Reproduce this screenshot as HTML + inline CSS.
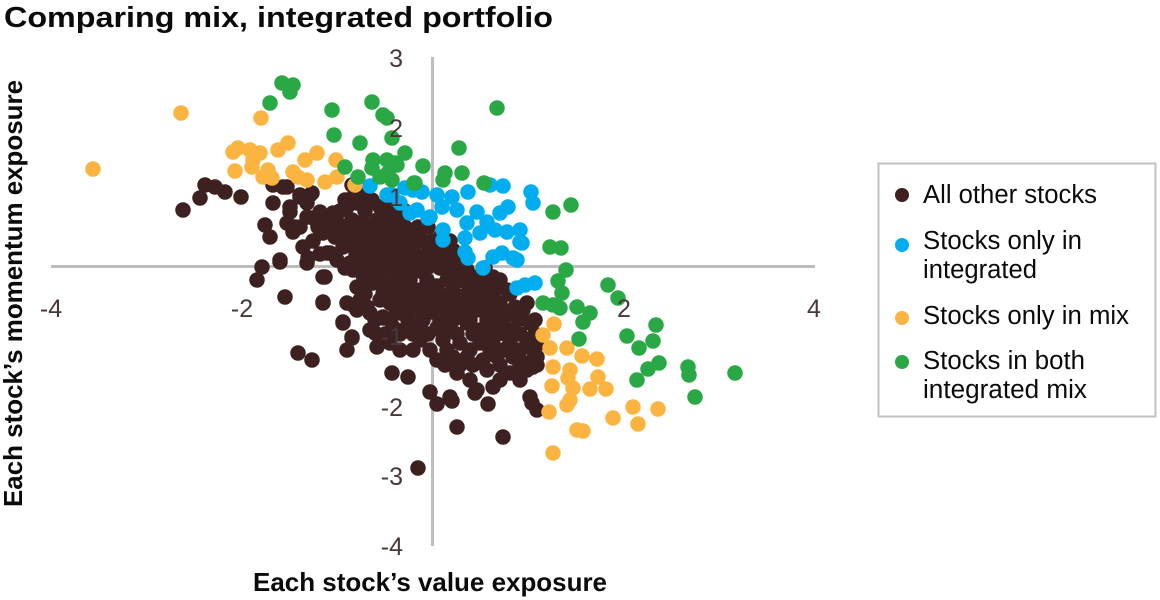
<!DOCTYPE html>
<html>
<head>
<meta charset="utf-8">
<style>
html,body{margin:0;padding:0;background:#fff;}
svg{display:block;}
</style>
</head>
<body>
<svg width="1160" height="600" viewBox="0 0 1160 600" xmlns="http://www.w3.org/2000/svg">
<rect width="1160" height="600" fill="#fff"/>
<!-- Title -->
<text x="4" y="27" font-family="Liberation Sans, Arial, sans-serif" font-weight="bold" font-size="29" fill="#0a0a0a" textLength="549" lengthAdjust="spacingAndGlyphs">Comparing mix, integrated portfolio</text>

<!-- Axes -->
<line x1="51" y1="266.5" x2="815" y2="266.5" stroke="#bdbdbd" stroke-width="3"/>
<line x1="432.5" y1="57" x2="432.5" y2="546" stroke="#bdbdbd" stroke-width="3"/>

<!-- Brown: all other stocks -->
<path fill="none" stroke="#3d2020" stroke-width="15.5" stroke-linecap="round" d="
M183 210h0M200 198h0M205 185h0M215 187h0M225 192h0M241 197h0M273 203h0M273 185h0M287 187h0M300 197h0M310 195h0M290 212h0M307 217h0M320 213h0M265 225h0M270 237h0M292 227h0M303 247h0M308 258h0M262 267h0M280 262h0M327 253h0M257 280h0M285 297h0M325 277h0M323 303h0M343 322h0M352 338h0M298 353h0M312 360h0M383 317h0M375 333h0M352 185h0M362 188h0
M283 187h0M300 195h0M312 193h0M355 193h0M363 197h0
M290 207h0M307 203h0M320 212h0M333 213h0M347 207h0M357 203h0M370 202h0M380 207h0M390 213h0
M287 223h0M300 227h0M313 218h0M327 220h0M340 225h0M352 220h0M363 222h0M377 220h0M387 223h0M398 223h0
M293 232h0M323 233h0M335 237h0M347 233h0M357 235h0M370 232h0M383 230h0M395 235h0M407 238h0M417 237h0M440 237h0
M303 247h0M330 253h0M343 247h0M357 247h0M368 250h0M380 245h0M393 250h0M403 247h0M413 248h0M430 245h0M440 247h0M453 250h0
M280 260h0M307 263h0M337 260h0M350 263h0M363 260h0M377 258h0M393 260h0M407 263h0M420 260h0M433 258h0M447 257h0M460 263h0M467 257h0
M323 277h0M353 270h0M363 275h0M377 270h0M397 277h0M407 270h0M420 271h0M440 268h0M457 273h0M467 270h0M477 277h0M493 277h0
M357 287h0M373 283h0M390 287h0M403 283h0M420 290h0M437 286h0M453 287h0M467 283h0M480 287h0M493 285h0M507 290h0
M323 302h0M347 303h0M360 300h0M380 300h0M390 303h0M403 302h0M417 300h0M430 297h0M447 300h0M460 303h0M473 297h0M487 300h0M500 303h0M527 303h0
M343 323h0M357 310h0M370 313h0M383 318h0M400 313h0M413 310h0M430 312h0M447 313h0M460 317h0M477 310h0M493 313h0M510 313h0M523 310h0
M352 337h0M370 330h0M380 337h0M393 327h0M407 327h0M420 327h0M437 328h0M450 327h0M467 323h0M480 330h0M497 327h0M513 330h0M530 323h0
M347 350h0M377 347h0M390 343h0M400 350h0M420 340h0M443 340h0M460 343h0M480 343h0M493 340h0M510 343h0M527 340h0M540 343h0
M437 360h0M453 357h0M467 357h0M483 360h0M497 357h0M513 357h0M527 363h0M537 357h0
M392 373h0M408 377h0M457 373h0M487 370h0M510 373h0M527 370h0M533 367h0
M430 392h0M450 397h0M477 390h0M530 397h0M493 387h0
M437 404h0M452 401h0M475 393h0M488 404h0M457 427h0M503 437h0M418 468h0M532 403h0M537 410h0
M345 200h0M372 200h0M388 200h0
M340 211h0M365 211h0M395 211h0M405 211h0
M295 227h0M318 227h0M332 227h0M346 227h0M358 227h0M370 227h0M392 227h0M405 227h0M418 227h0M428 227h0
M313 241h0M350 241h0M362 241h0M376 241h0M388 241h0M400 241h0M422 241h0M432 241h0M450 241h0
M320 254h0M356 254h0M372 254h0M386 254h0M400 254h0M413 254h0M427 254h0M440 254h0
M345 268h0M358 268h0M372 268h0M386 268h0M400 268h0M413 268h0M427 268h0M447 268h0M485 268h0
M365 280h0M383 280h0M410 280h0M427 280h0M447 280h0M460 280h0M470 280h0M485 280h0M500 280h0
M365 294h0M383 294h0M397 294h0M410 294h0M425 294h0M440 294h0M455 294h0M467 294h0M480 294h0M493 294h0M510 294h0
M355 307h0M367 307h0M395 307h0M408 307h0M423 307h0M437 307h0M453 307h0M467 307h0M483 307h0M500 307h0M515 307h0
M375 320h0M390 320h0M408 320h0M423 320h0M440 320h0M453 320h0M470 320h0M487 320h0M503 320h0M518 320h0M535 320h0
M385 334h0M400 334h0M413 334h0M428 334h0M443 334h0M457 334h0M473 334h0M490 334h0M505 334h0M520 334h0M535 334h0
M413 350h0M430 350h0M447 350h0M470 350h0M490 350h0M503 350h0M520 350h0M533 350h0
M445 365h0M460 365h0M473 365h0M500 365h0M520 365h0M537 365h0
M470 380h0M500 380h0M520 380h0
"/>

<!-- Blue: stocks only in integrated -->
<path fill="none" stroke="#00adef" stroke-width="15.5" stroke-linecap="round" d="
M370 186h0M387 195h0M392 195h0M400 203h0M413 190h0M422 192h0M417 210h0M428 218h0M437 195h0M442 207h0M452 197h0M457 210h0M468 192h0M477 212h0M490 185h0M503 186h0M531 192h0M533 203h0M508 207h0M500 213h0M487 222h0M467 223h0M480 233h0M495 230h0M507 232h0M520 230h0M520 242h0M443 230h0M443 240h0M465 238h0M465 252h0M468 258h0M493 257h0M502 253h0M513 258h0M483 268h0M517 288h0M525 285h0M535 283h0M430 217h0M410 213h0M522 243h0M517 260h0M405 188h0
"/>

<!-- Orange: stocks only in mix -->
<path fill="none" stroke="#fcb441" stroke-width="15.5" stroke-linecap="round" d="
M93 169h0M181 113h0M261 118h0M233 152h0M238 148h0M250 150h0M260 153h0M253 160h0M252 167h0M235 171h0M268 170h0M272 178h0M263 177h0M278 150h0M288 143h0M293 172h0M298 177h0M307 180h0M305 160h0M317 153h0M325 182h0M336 160h0M337 177h0M355 185h0
M554 324h0M543 335h0M550 348h0M567 348h0M582 356h0M597 359h0M553 367h0M570 370h0M568 378h0M598 377h0M552 386h0M573 388h0M590 389h0M606 389h0M570 400h0M567 405h0M549 412h0M633 407h0M658 409h0M613 418h0M638 424h0M577 430h0M583 431h0M553 453h0
"/>

<!-- Green: stocks in both -->
<path fill="none" stroke="#29a845" stroke-width="15.5" stroke-linecap="round" d="
M282 83h0M293 85h0M290 92h0M270 103h0M332 110h0M334 135h0M372 102h0M383 115h0M387 118h0M360 143h0M392 138h0M405 153h0M459 148h0M423 166h0M345 167h0M373 160h0M387 160h0M395 163h0M372 168h0M380 177h0M358 177h0M392 180h0M415 183h0M445 173h0M443 180h0M462 173h0M484 183h0M497 108h0M388 173h0M397 165h0M414 183h0
M571 205h0M553 212h0M550 247h0M561 248h0M566 270h0M558 281h0M562 293h0M608 285h0M618 298h0M543 303h0M553 305h0M560 308h0M577 307h0M590 313h0M583 322h0M579 339h0M656 325h0M627 336h0M653 341h0M639 348h0M659 363h0M648 369h0M637 380h0M688 367h0M689 375h0M695 397h0M735 373h0
"/>

<!-- Tick labels -->
<g font-family="Liberation Sans, Arial, sans-serif" font-size="25" fill="#4a3838">
<text x="51" y="317" text-anchor="middle">-4</text>
<text x="242" y="317" text-anchor="middle">-2</text>
<text x="624" y="317" text-anchor="middle">2</text>
<text x="814" y="317" text-anchor="middle">4</text>
<text x="403" y="67" text-anchor="end">3</text>
<text x="403" y="137" text-anchor="end">2</text>
<text x="403" y="206" text-anchor="end">1</text>
<text x="403" y="345" text-anchor="end">-1</text>
<text x="403" y="416" text-anchor="end">-2</text>
<text x="403" y="485" text-anchor="end">-3</text>
<text x="403" y="555" text-anchor="end">-4</text>
</g>

<!-- Axis titles -->
<text x="253" y="591" font-family="Liberation Sans, Arial, sans-serif" font-weight="bold" font-size="26" fill="#0a0a0a" textLength="354" lengthAdjust="spacingAndGlyphs">Each stock’s value exposure</text>
<text transform="translate(22,507) rotate(-90)" x="0" y="0" font-family="Liberation Sans, Arial, sans-serif" font-weight="bold" font-size="26" fill="#0a0a0a" textLength="427" lengthAdjust="spacingAndGlyphs">Each stock’s momentum exposure</text>

<!-- Legend -->
<rect x="878.5" y="163.5" width="277" height="253" fill="#fff" stroke="#c2c2c2" stroke-width="2"/>
<circle cx="902" cy="195" r="7" fill="#3d2020"/>
<circle cx="902" cy="245" r="7" fill="#00adef"/>
<circle cx="902" cy="318" r="7" fill="#fcb441"/>
<circle cx="902" cy="362" r="7" fill="#29a845"/>
<g font-family="Liberation Sans, Arial, sans-serif" font-size="25.5" fill="#0a0a0a">
<text x="923" y="203" textLength="174" lengthAdjust="spacingAndGlyphs">All other stocks</text>
<text x="923" y="249" textLength="159" lengthAdjust="spacingAndGlyphs">Stocks only in</text>
<text x="923" y="278" textLength="114" lengthAdjust="spacingAndGlyphs">integrated</text>
<text x="923" y="324" textLength="206" lengthAdjust="spacingAndGlyphs">Stocks only in mix</text>
<text x="923" y="369" textLength="162" lengthAdjust="spacingAndGlyphs">Stocks in both</text>
<text x="923" y="398" textLength="164" lengthAdjust="spacingAndGlyphs">integrated mix</text>
</g>
</svg>
</body>
</html>
